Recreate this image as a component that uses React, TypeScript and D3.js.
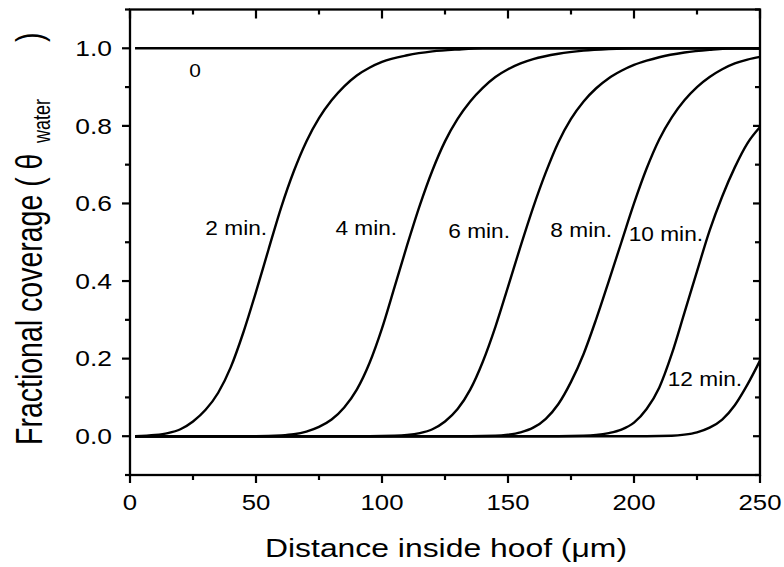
import React from "react";
import * as d3 from "d3";

// ---- data ----
const xDomain: [number, number] = [0, 250];
const yDomain: [number, number] = [-0.1, 1.1];
const xMajorTicks = [0, 50, 100, 150, 200, 250];
const xMinorTicks = [25, 75, 125, 175, 225];
const yMajorTicks = [0, 0.2, 0.4, 0.6, 0.8, 1.0];
const yMinorTicks = [-0.1, 0.1, 0.3, 0.5, 0.7, 0.9, 1.1];

const seriesNames = ["0", "2 min.", "4 min.", "6 min.", "8 min.", "10 min.", "12 min."];

const curve0: [number, number][] = [[2, 1], [250, 1]];
const curve2: [number, number][] = [
  [2, 0], [10, 0.003], [15, 0.008], [20, 0.018], [25, 0.038], [30, 0.068], [35, 0.112], [40, 0.178],
  [45, 0.268], [50, 0.372], [55, 0.482], [60, 0.59], [65, 0.683], [70, 0.76], [75, 0.82], [80, 0.866],
  [85, 0.902], [90, 0.93], [95, 0.95], [100, 0.965], [110, 0.982], [120, 0.992], [130, 0.997],
  [140, 1.0], [250, 1.0],
];
const curve4: [number, number][] = [
  [2, 0], [50, 0], [60, 0.002], [65, 0.005], [70, 0.012], [75, 0.024], [80, 0.043], [85, 0.074],
  [90, 0.12], [95, 0.188], [100, 0.278], [105, 0.385], [110, 0.493], [115, 0.595], [120, 0.685],
  [125, 0.76], [130, 0.818], [135, 0.863], [140, 0.898], [145, 0.926], [150, 0.946], [155, 0.961],
  [160, 0.972], [170, 0.986], [180, 0.994], [190, 0.998], [200, 1.0], [250, 1.0],
];
const curve6: [number, number][] = [
  [2, 0], [95, 0], [105, 0.001], [110, 0.003], [115, 0.008], [120, 0.018], [125, 0.038], [130, 0.07],
  [135, 0.12], [140, 0.192], [145, 0.282], [150, 0.385], [155, 0.49], [160, 0.59], [165, 0.68],
  [170, 0.758], [175, 0.818], [180, 0.863], [185, 0.897], [190, 0.923], [195, 0.942], [200, 0.957],
  [205, 0.968], [210, 0.977], [220, 0.989], [230, 0.996], [240, 1.0], [250, 1.0],
];
const curve8: [number, number][] = [
  [2, 0], [135, 0], [145, 0.001], [150, 0.004], [155, 0.01], [160, 0.022], [165, 0.045], [170, 0.083],
  [175, 0.14], [180, 0.212], [185, 0.302], [190, 0.4], [195, 0.5], [200, 0.6], [205, 0.69],
  [210, 0.765], [215, 0.822], [220, 0.866], [225, 0.9], [230, 0.926], [235, 0.946], [240, 0.961],
  [245, 0.971], [250, 0.978],
];
const curve10: [number, number][] = [
  [2, 0], [170, 0], [180, 0.001], [185, 0.003], [190, 0.008], [195, 0.017], [200, 0.035], [205, 0.07],
  [210, 0.125], [215, 0.212], [220, 0.318], [225, 0.425], [230, 0.53], [235, 0.618], [240, 0.693],
  [245, 0.755], [250, 0.797],
];
const curve12: [number, number][] = [
  [2, 0], [205, 0], [215, 0.001], [220, 0.004], [225, 0.01], [230, 0.022], [235, 0.043], [240, 0.08],
  [245, 0.133], [250, 0.195],
];
const seriesData = [curve0, curve2, curve4, curve6, curve8, curve10, curve12];

// label anchors in data units (x, y)
const labelAnchors: [number, number][] = [
  [25.8, 0.925], [54.4, 0.518], [106, 0.518], [150.8, 0.51], [191.3, 0.513], [227.4, 0.503], [242.9, 0.129],
];

const xTitle = "Distance inside hoof (\u03bcm)";
const yTitleMain = "Fractional coverage ( \u03b8";
const yTitleSub = "water";
const yTitleEnd = ")";

const W = 784;
const H = 567;
const FONT = "'Liberation Sans', Arial, Helvetica, sans-serif";

export default function App() {
  const x = d3.scaleLinear().domain(xDomain).range([130, 760]);
  const y = d3.scaleLinear().domain(yDomain).range([475, 9.5]);
  const line = d3
    .line<[number, number]>()
    .x((d) => x(d[0]))
    .y((d) => y(d[1]))
    .curve(d3.curveMonotoneX);

  const x0 = x(xDomain[0]);
  const x1 = x(xDomain[1]);
  const y0 = y(yDomain[0]);
  const y1 = y(yDomain[1]);

  return (
    <svg
      width={W}
      height={H}
      style={{ position: "absolute", left: 0, top: 0, background: "#fff" }}
      fontFamily={FONT}
    >
      <rect x={0} y={0} width={W} height={H} fill="#fff" />
      {/* curves */}
      <g fill="none" stroke="#000" strokeWidth={2.4} strokeLinejoin="round">
        {seriesData.map((d, i) => (
          <path key={i} d={line(d) || ""} />
        ))}
      </g>
      {/* curve labels */}
      <g fill="#000">
        {seriesNames.map((n, i) => {
          const [lx, ly] = labelAnchors[i];
          const isZero = i === 0;
          return (
            <text
              key={n}
              transform={`translate(${x(lx)},${y(ly)}) scale(${isZero ? 1.1 : 1.08},1)`}
              fontSize={isZero ? 19 : 21}
              textAnchor={isZero ? "middle" : "end"}
            >
              {n}
            </text>
          );
        })}
      </g>
      {/* frame */}
      <rect x={x0} y={y1} width={x1 - x0} height={y0 - y1} fill="none" stroke="#000" strokeWidth={2.3} />
      {/* ticks: bottom/left outward, top/right inward */}
      <g stroke="#000" strokeWidth={2.2}>
        {xMajorTicks.map((t) => (
          <g key={"xM" + t}>
            <line x1={x(t)} x2={x(t)} y1={y0} y2={y0 + 8} />
            <line x1={x(t)} x2={x(t)} y1={y1} y2={y1 + 9} />
          </g>
        ))}
        {xMinorTicks.map((t) => (
          <g key={"xm" + t}>
            <line x1={x(t)} x2={x(t)} y1={y0} y2={y0 + 5} />
            <line x1={x(t)} x2={x(t)} y1={y1} y2={y1 + 5} />
          </g>
        ))}
        {yMajorTicks.map((t) => (
          <g key={"yM" + t}>
            <line x1={x0} x2={x0 - 8} y1={y(t)} y2={y(t)} />
            <line x1={x1} x2={x1 - 7} y1={y(t)} y2={y(t)} />
          </g>
        ))}
        {yMinorTicks.map((t) => (
          <g key={"ym" + t}>
            <line x1={x0} x2={x0 - 5} y1={y(t)} y2={y(t)} />
            <line x1={x1} x2={x1 - 5} y1={y(t)} y2={y(t)} />
          </g>
        ))}
      </g>
      {/* tick labels */}
      <g fill="#000" fontSize={22}>
        {xMajorTicks.map((t) => (
          <text key={"xl" + t} transform={`translate(${x(t)},510) scale(1.17,1)`} textAnchor="middle">
            {d3.format("d")(t)}
          </text>
        ))}
        {yMajorTicks.map((t) => (
          <text key={"yl" + t} transform={`translate(112,${y(t) + 7.8}) scale(1.2,1)`} textAnchor="end">
            {d3.format(".1f")(t)}
          </text>
        ))}
      </g>
      {/* axis titles */}
      <text
        x={446}
        y={557}
        fontSize={25}
        textAnchor="middle"
        textLength={362}
        lengthAdjust="spacingAndGlyphs"
        fill="#000"
      >
        {xTitle}
      </text>
      <g transform="translate(42,0) scale(1.3,1) rotate(-90)" fill="#000">
        <text x={-445} y={0} fontSize={28.5} textAnchor="start">
          {yTitleMain}
        </text>
        <text x={-143} y={6} fontSize={18} textAnchor="start">
          {yTitleSub}
        </text>
        <text x={-42} y={0} fontSize={28.5} textAnchor="start">
          {yTitleEnd}
        </text>
      </g>
    </svg>
  );
}
